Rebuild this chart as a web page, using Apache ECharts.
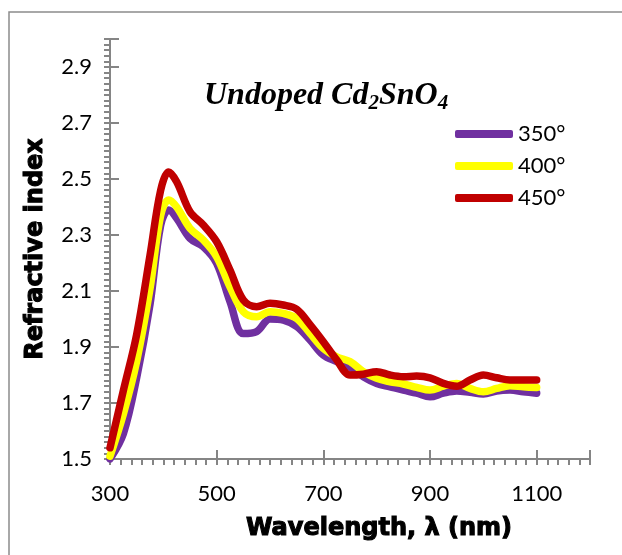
<!DOCTYPE html>
<html>
<head>
<meta charset="utf-8">
<script src="https://cdn.jsdelivr.net/npm/echarts@6/dist/echarts.min.js"></script>
<style>
  html, body { margin: 0; padding: 0; background: #fff; }
  #main { width: 622px; height: 555px; }
</style>
</head>
<body>
<div id="main"></div>
<script>
// wavelength (nm)
var wavelengths = [300, 325, 350, 375, 395, 410, 425, 450, 475, 500,
  525, 550, 575, 600, 625, 650, 675, 700, 725, 750,
  775, 800, 825, 850, 875, 900, 925, 950, 975, 1000,
  1025, 1050, 1075, 1100];
// refractive index, one list per temperature
var n350 = [1.50, 1.59, 1.79, 2.052, 2.335, 2.389, 2.36, 2.288, 2.258, 2.199,
  2.062, 1.948, 1.955, 2.0, 1.996, 1.973, 1.925, 1.871, 1.848, 1.828,
  1.794, 1.77, 1.758, 1.746, 1.735, 1.722, 1.735, 1.743, 1.738, 1.732,
  1.743, 1.746, 1.74, 1.735];
var n400 = [1.51, 1.66, 1.849, 2.108, 2.37, 2.425, 2.40, 2.324, 2.282, 2.222,
  2.115, 2.026, 2.008, 2.026, 2.02, 2.002, 1.949, 1.895, 1.865, 1.848,
  1.812, 1.788, 1.776, 1.768, 1.756, 1.746, 1.76, 1.77, 1.752, 1.74,
  1.752, 1.762, 1.758, 1.755];
var n450 = [1.54, 1.744, 1.945, 2.227, 2.46, 2.525, 2.49, 2.383, 2.336, 2.276,
  2.175, 2.068, 2.044, 2.056, 2.05, 2.035, 1.98, 1.919, 1.854, 1.80,
  1.803, 1.812, 1.80, 1.794, 1.796, 1.79, 1.77, 1.76, 1.782, 1.80,
  1.79, 1.782, 1.782, 1.782];
var seriesNames = ['350°', '400°', '450°'];
var seriesColors = ['#7030A0', '#FFFF00', '#C00000'];

function pairs(ys) {
  return wavelengths.map(function (x, i) { return [x, ys[i]]; });
}

var axisGrey = '#858585';
var labelFont = 'Lato';
var nameStyle = {
  fontFamily: 'DejaVu Sans', fontWeight: 'bold', fontSize: 24, color: '#000',
  textBorderColor: '#000', textBorderWidth: 1.1
};

function makeSeries(idx, ys) {
  return {
    name: seriesNames[idx],
    type: 'line',
    xAxisIndex: 0,
    yAxisIndex: 0,
    data: pairs(ys),
    smooth: 0.35,
    symbol: 'none',
    color: seriesColors[idx],
    lineStyle: { width: 7.5, color: seriesColors[idx], cap: 'round', join: 'round' }
  };
}

var chart = echarts.init(document.getElementById('main'));

var option = {
  backgroundColor: '#fff',
  animation: false,
  title: {
    text: '{t|Undoped Cd}{s|2}{t|SnO}{s|4}',
    left: 199,
    top: 72,
    textStyle: {
      rich: {
        t: { fontFamily: 'Liberation Serif', fontStyle: 'italic', fontWeight: 'bold', fontSize: 32, color: '#000' },
        s: { fontFamily: 'Liberation Serif', fontStyle: 'italic', fontWeight: 'bold', fontSize: 21, color: '#000', padding: [16, 0, 0, 0] }
      }
    }
  },
  legend: {
    data: seriesNames,
    orient: 'vertical',
    left: 455,
    top: 122,
    icon: 'roundRect',
    itemWidth: 58,
    itemHeight: 8,
    itemGap: 8,
    padding: 0,
    textStyle: { fontFamily: labelFont, fontSize: 22, color: '#000', lineHeight: 24 }
  },
  graphic: [
    // outer frame of the figure
    {
      type: 'rect',
      shape: { x: 9, y: 12, width: 700, height: 700 },
      style: { fill: 'none', stroke: '#8c8c8c', lineWidth: 1.5 },
      silent: true
    }
  ],
  grid: [
    { left: 110, right: 32, top: 39, bottom: 96 },
    { left: 110, right: 32, top: 39, bottom: 96 }
  ],
  xAxis: [
    {
      // major ticks (inside) and labels
      type: 'value',
      gridIndex: 0,
      min: 300,
      max: 1200,
      interval: 200,
      name: 'Wavelength, λ (nm)',
      nameLocation: 'middle',
      nameGap: 58,
      nameTextStyle: Object.assign({ padding: [0, 0, 0, 58] }, nameStyle),
      axisLine: { show: true, onZero: false, lineStyle: { color: axisGrey, width: 2 } },
      axisTick: { show: true, inside: true, length: 9, lineStyle: { color: axisGrey, width: 2 } },
      axisLabel: {
        margin: 24, fontFamily: labelFont, fontSize: 22, color: '#000',
        formatter: function (v) { return v > 1150 ? '' : String(v); }
      },
      splitLine: { show: false }
    },
    {
      // every 20 nm, pointing outward
      type: 'value',
      gridIndex: 1,
      min: 300,
      max: 1200,
      interval: 20,
      axisLine: { show: true, onZero: false, lineStyle: { color: axisGrey, width: 2 } },
      axisTick: { show: true, inside: false, length: 6, lineStyle: { color: axisGrey, width: 2 } },
      axisLabel: { show: false },
      splitLine: { show: false }
    }
  ],
  yAxis: [
    {
      type: 'value',
      gridIndex: 0,
      min: 1.5,
      max: 3.0,
      interval: 0.2,
      name: 'Refractive index',
      nameLocation: 'middle',
      nameGap: 62,
      nameTextStyle: nameStyle,
      axisLine: { show: true, onZero: false, lineStyle: { color: axisGrey, width: 2 } },
      axisTick: { show: true, inside: true, length: 9, lineStyle: { color: axisGrey, width: 2 } },
      axisLabel: {
        margin: 18, fontFamily: labelFont, fontSize: 22, color: '#000',
        formatter: function (v) { return v > 2.95 ? '' : v.toFixed(1); }
      },
      splitLine: { show: false }
    },
    {
      // every 0.02, pointing outward
      type: 'value',
      gridIndex: 1,
      min: 1.5,
      max: 3.0,
      interval: 0.02,
      axisLine: { show: true, onZero: false, lineStyle: { color: axisGrey, width: 2 } },
      axisTick: { show: true, inside: false, length: 6, lineStyle: { color: axisGrey, width: 2 } },
      axisLabel: { show: false },
      splitLine: { show: false }
    }
  ],
  series: [
    makeSeries(0, n350),
    makeSeries(1, n400),
    makeSeries(2, n450)
  ]
};

chart.setOption(option);
</script>
</body>
</html>
